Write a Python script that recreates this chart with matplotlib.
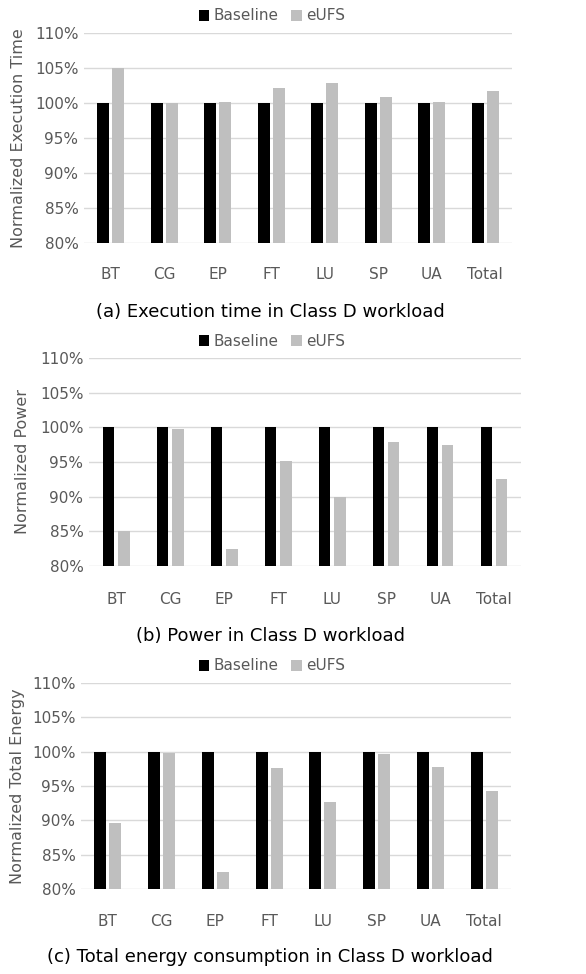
import matplotlib
matplotlib.use("Agg")
import matplotlib.pyplot as plt
from matplotlib.patches import Patch
import numpy as np

categories = ["BT", "CG", "EP", "FT", "LU", "SP", "UA", "Total"]
baseline_time = [100, 100, 100, 100, 100, 100, 100, 100]
eufs_time = [105.0, 100.0, 100.2, 102.2, 102.9, 100.9, 100.2, 101.7]
baseline_power = [100, 100, 100, 100, 100, 100, 100, 100]
eufs_power = [85.1, 99.7, 82.5, 95.2, 90.0, 97.9, 97.5, 92.5]
baseline_energy = [100, 100, 100, 100, 100, 100, 100, 100]
eufs_energy = [89.6, 99.8, 82.5, 97.6, 92.7, 99.7, 97.8, 94.2]
yticks = [80, 85, 90, 95, 100, 105, 110]
ytick_labels = ["80%", "85%", "90%", "95%", "100%", "105%", "110%"]
series_names = ["Baseline", "eUFS"]
ylabels = ["Normalized Execution Time", "Normalized Power", "Normalized Total Energy"]
captions = ["(a) Execution time in Class D workload",
            "(b) Power in Class D workload",
            "(c) Total energy consumption in Class D workload"]

W, H = 586, 974
fig = plt.figure(figsize=(W / 100, H / 100), dpi=100)
plt.rcParams['font.family'] = ['DejaVu Sans']

C_BASE = "#000000"
C_EUFS = "#bfbfbf"
TXT = "#595959"

# panel geometry in pixels: left, right, top(110%), bottom(80%), legend y, tick y, caption y, ylabel x
panels = [
    (84, 512, 33, 243, 16, 268, 312, 19),
    (89, 521, 358, 566, 341, 593, 636, 23),
    (81, 511, 683, 889, 666, 915, 957, 18),
]
data = [(baseline_time, eufs_time), (baseline_power, eufs_power), (baseline_energy, eufs_energy)]

x = np.arange(len(categories))
bw = 0.22
off = 0.14

for i, (l, r, t, b, ly, ty, cy, yx) in enumerate(panels):
    ax = fig.add_axes([l / W, 1 - b / H, (r - l) / W, (b - t) / H])
    base, eu = data[i]
    ax.bar(x - off, np.array(base) - 80, bw, bottom=80, color=C_BASE, zorder=3)
    ax.bar(x + off, np.array(eu) - 80, bw, bottom=80, color=C_EUFS, zorder=3)
    ax.set_xlim(-0.5, len(categories) - 0.5)
    ax.set_ylim(80, 110)
    ax.set_yticks(yticks)
    ax.set_yticklabels(ytick_labels, fontsize=11, color=TXT)
    ax.set_xticks(x)
    ax.set_xticklabels(categories, fontsize=11, color=TXT)
    ax.tick_params(length=0)
    ax.tick_params(axis='x', pad=(ty - b) - 8)
    ax.tick_params(axis='y', pad=4)
    for s in ax.spines.values():
        s.set_visible(False)
    ax.yaxis.grid(True, color="#d9d9d9", linewidth=1.0, zorder=0)
    ax.set_axisbelow(True)
    fig.text(yx / W, 1 - (t + b) / 2 / H, ylabels[i], rotation=90, ha='center', va='center',
             fontsize=11.5, color=TXT)
    handles = [Patch(facecolor=C_BASE), Patch(facecolor=C_EUFS)]
    fig.legend(handles, series_names, loc='center', bbox_to_anchor=(272 / W, 1 - ly / H),
               ncol=2, frameon=False, fontsize=11, labelcolor=TXT,
               handlelength=0.7, handleheight=0.7, handletextpad=0.3, columnspacing=0.8)
    fig.text(270 / W, 1 - cy / H, captions[i], ha='center', va='center', fontsize=13, color='black')

fig.savefig("out.png", dpi=100, facecolor='white')
